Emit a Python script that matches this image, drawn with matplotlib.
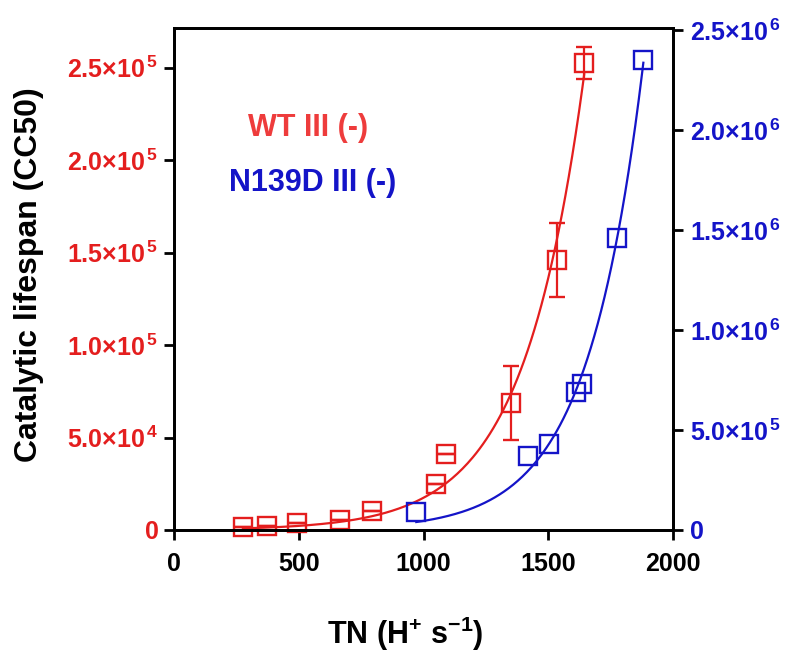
import numpy as np
import matplotlib
matplotlib.use('Agg')
from matplotlib import pyplot as plt
from matplotlib.ticker import FuncFormatter

# data
wt_tn = [276, 372, 492, 664, 792, 1052, 1090, 1351, 1533, 1644]
wt_cc50 = [1600, 2200, 3800, 5400, 10300, 24900, 41000, 68500, 146000, 252500]
wt_err = [0, 0, 0, 0, 0, 0, 0, 20000, 20000, 8500]

n139d_tn = [971, 1417, 1504, 1611, 1635, 1777, 1881]
n139d_cc50 = [91500, 370000, 430000, 691500, 730000, 1458000, 2350000]

left_ticks = [0, 5.0e4, 1.0e5, 1.5e5, 2.0e5, 2.5e5]
right_ticks = [0, 5.0e5, 1.0e6, 1.5e6, 2.0e6, 2.5e6]
x_ticks = [0, 500, 1000, 1500, 2000]

RED = '#e41e1e'
BLUE = '#1414c8'

plt.rcParams['font.family'] = 'Liberation Sans'
plt.rcParams['font.weight'] = 'bold'
plt.rcParams['mathtext.fontset'] = 'custom'
plt.rcParams['mathtext.rm'] = 'Liberation Sans:bold'
plt.rcParams['mathtext.bf'] = 'Liberation Sans:bold'
plt.rcParams['mathtext.it'] = 'Liberation Sans:bold'


def exp_fit(x, y):
    # least squares fit of y = A*exp(k*x), grid search over k
    x = np.asarray(x, float)
    y = np.asarray(y, float)
    best = None
    for k in np.linspace(0.001, 0.01, 4000):
        e = np.exp(k * x)
        a = np.sum(y * e) / np.sum(e * e)
        sse = np.sum((y - a * e) ** 2)
        if best is None or sse < best[0]:
            best = (sse, a, k)
    return best[1], best[2]


def sci_fmt(v, pos):
    if v == 0:
        return '0'
    exp = int(np.floor(np.log10(v)))
    return r'$%.1f{\times}10^{\,%d}$' % (v / 10 ** exp, exp)


fig = plt.figure(figsize=(8, 6.62), dpi=100)
ax = fig.add_axes([0.2175, 0.1994, 0.6238, 0.7583])
ax2 = ax.twinx()

# WT on left axis
a, k = exp_fit(wt_tn, wt_cc50)
xs = np.linspace(min(wt_tn), max(wt_tn), 200)
ax.plot(xs, a * np.exp(k * xs), color=RED, lw=1.6)
ax.errorbar(wt_tn, wt_cc50, yerr=wt_err, fmt='s', mfc='none', mec=RED, ecolor=RED,
            ms=12.5, mew=1.7, elinewidth=1.6, capsize=5.5, capthick=1.6, clip_on=False)

# N139D on right axis
a2, k2 = exp_fit(n139d_tn, n139d_cc50)
xs2 = np.linspace(min(n139d_tn), max(n139d_tn), 200)
ax2.plot(xs2, a2 * np.exp(k2 * xs2), color=BLUE, lw=1.6)
ax2.plot(n139d_tn, n139d_cc50, 's', mfc='none', mec=BLUE, ms=12.5, mew=1.7, clip_on=False)

ax.set_xlim(0, 2000)
ax.set_ylim(0, 2.715e5)
ax2.set_ylim(0, 2.51e6)

ax.set_xticks(x_ticks)
ax.set_yticks(left_ticks)
ax2.set_yticks(right_ticks)
ax.yaxis.set_major_formatter(FuncFormatter(sci_fmt))
ax2.yaxis.set_major_formatter(FuncFormatter(sci_fmt))

for a_ in (ax, ax2):
    for spine in a_.spines.values():
        spine.set_linewidth(2)
    a_.tick_params(width=2, length=7, labelsize=18)
ax.tick_params(axis='y', labelcolor=RED, pad=4)
ax.tick_params(axis='x', pad=9)
ax2.tick_params(axis='y', labelcolor=BLUE, pad=5)
for lbl in ax.get_xticklabels():
    lbl.set_fontweight('bold')

ax.set_xlabel(r'TN (H$^{+}$ s$^{-1}$)', fontsize=22, fontweight='bold')
ax.set_ylabel('Catalytic lifespan (CC50)', fontsize=23, fontweight='bold')
ax.xaxis.set_label_coords(0.463, -0.207)
ax.xaxis.label.set_va('center')
ax.yaxis.set_label_coords(-0.29, 0.508)
ax.yaxis.label.set_va('center')

ax.text(0.269, 0.801, 'WT III (-)', transform=ax.transAxes, color='#ee3c3c',
        fontsize=22, fontweight='bold', ha='center', va='center')
ax.text(0.277, 0.691, 'N139D III (-)', transform=ax.transAxes, color=BLUE,
        fontsize=22, fontweight='bold', ha='center', va='center')

plt.savefig('out.png', dpi=100)
